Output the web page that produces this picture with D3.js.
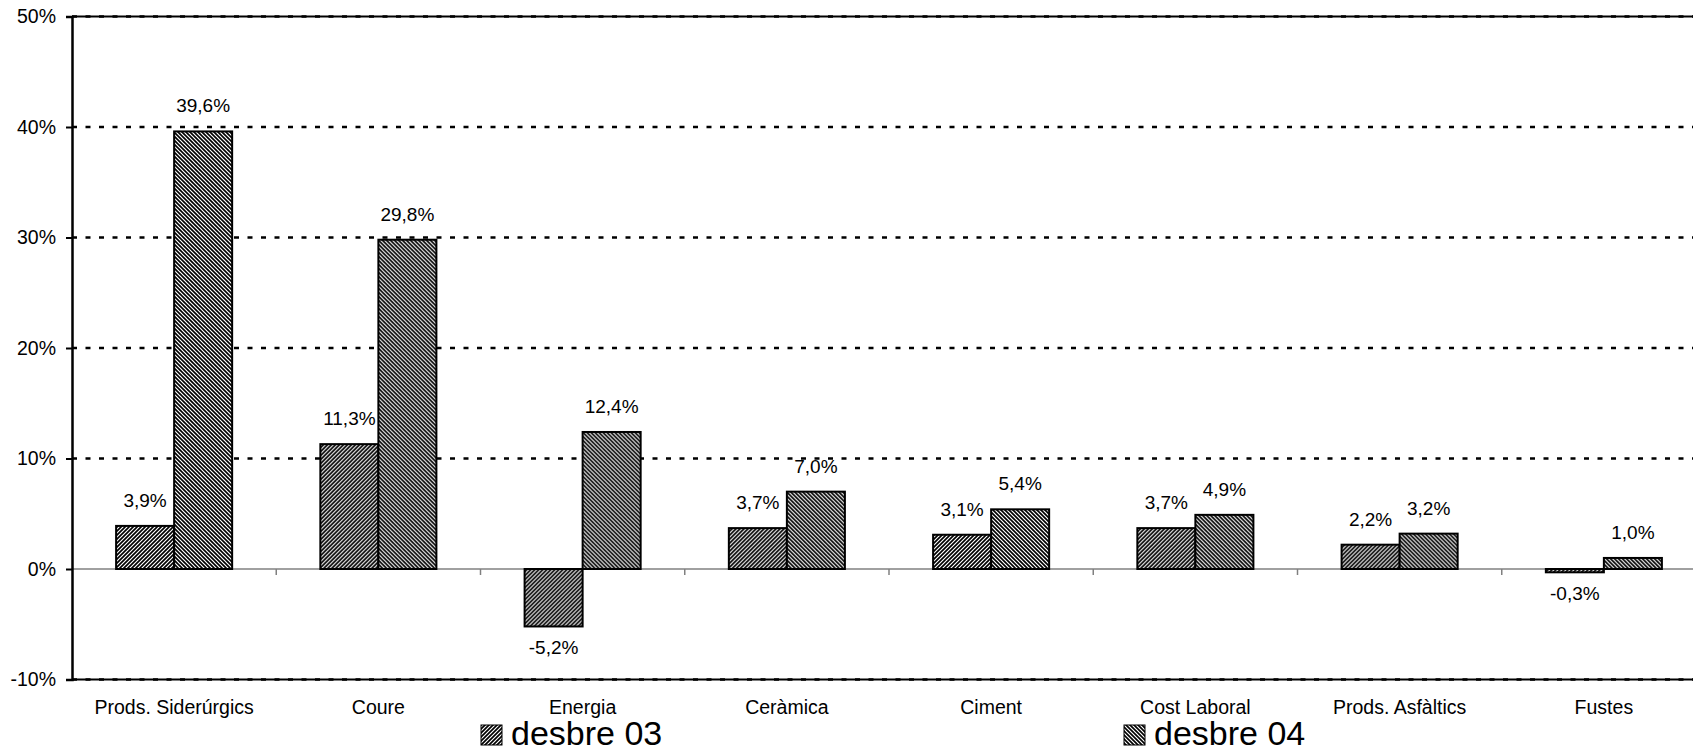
<!DOCTYPE html>
<html lang="ca">
<head>
<meta charset="utf-8">
<title>desbre 03 / desbre 04</title>
<script src="https://d3js.org/d3.v7.min.js"></script>
<style>
  body { margin:0; background:#fff; font-family:"Liberation Sans", Arial, sans-serif; overflow:hidden; }
  svg text { fill:#000; }
</style>
</head>
<body>
<div id="chart"></div>
<script>
var categories = ["Prods. Siderúrgics","Coure","Energia","Ceràmica","Ciment","Cost Laboral","Prods. Asfàltics","Fustes"]
var seriesNames = ["desbre 03","desbre 04"]
var desbre03 = [3.9, 11.3, -5.2, 3.7, 3.1, 3.7, 2.2, -0.3]
var desbre04 = [39.6, 29.8, 12.4, 7.0, 5.4, 4.9, 3.2, 1.0]
var yTicks = [-10, 0, 10, 20, 30, 40, 50]

var W = 1693, H = 752
// plot area runs a little past the right edge of the picture
var mLeft = 72, mRight = 1706, mTop = 16.5, mBottom = 679.5

var svg = d3.select("#chart").append("svg").attr("width", W).attr("height", H)

// hatch patterns
var defs = svg.append("defs")
var p0 = defs.append("pattern").attr("id","hatch03").attr("patternUnits","userSpaceOnUse")
  .attr("width",4).attr("height",4)
p0.append("rect").attr("width",4).attr("height",4).attr("fill","#fff")
p0.append("path").attr("d","M-1,1 l2,-2 M0,4 l4,-4 M3,5 l2,-2").attr("stroke","#000").attr("stroke-width",1.7)
var p1 = defs.append("pattern").attr("id","hatch04").attr("patternUnits","userSpaceOnUse")
  .attr("width",4).attr("height",4)
p1.append("rect").attr("width",4).attr("height",4).attr("fill","#000")
p1.append("path").attr("d","M-1,3 l2,2 M0,0 l4,4 M3,-1 l2,2").attr("stroke","#fff").attr("stroke-width",1.2)
var fills = ["url(#hatch03)","url(#hatch04)"]

var y = d3.scaleLinear().domain([-10, 50]).range([mBottom, mTop])
var x = d3.scaleBand().domain(categories).range([mLeft, mRight]).padding(0)
var xs = d3.scaleBand().domain(seriesNames).range([0, x.bandwidth()]).paddingInner(0).paddingOuter(0.76)

var rows = categories.map(function(c, i){ return {cat:c, vals:[desbre03[i], desbre04[i]]} })

// gridlines
svg.append("g").selectAll("line").data(yTicks.filter(function(t){ return t != 0 }))
  .enter().append("line")
  .attr("x1", mLeft).attr("x2", mRight)
  .attr("y1", function(d){ return y(d) }).attr("y2", function(d){ return y(d) })
  .attr("stroke","#000").attr("stroke-width",2.6).attr("stroke-dasharray","5,8.5")
// solid borders top and bottom
svg.append("g").selectAll("line").data([-10, 50]).enter().append("line")
  .attr("x1", mLeft).attr("x2", mRight)
  .attr("y1", function(d){ return y(d) }).attr("y2", function(d){ return y(d) })
  .attr("stroke","#000").attr("stroke-width",1.8)

// zero line + category ticks
svg.append("line").attr("x1",mLeft).attr("x2",mRight).attr("y1",y(0)).attr("y2",y(0))
  .attr("stroke","#808080").attr("stroke-width",1.5)
svg.append("g").selectAll("line").data(categories.slice(1)).enter().append("line")
  .attr("x1", function(d){ return x(d) }).attr("x2", function(d){ return x(d) })
  .attr("y1", y(0)).attr("y2", y(0) + 6)
  .attr("stroke","#808080").attr("stroke-width",1.5)

// bars
var groups = svg.append("g").selectAll("g").data(rows).enter().append("g")
  .attr("transform", function(d){ return "translate(" + x(d.cat) + ",0)" })
groups.selectAll("rect").data(function(d){ return d.vals.map(function(v, j){ return {s:seriesNames[j], v:v, j:j} }) })
  .enter().append("rect")
  .attr("x", function(d){ return xs(d.s) })
  .attr("width", xs.bandwidth())
  .attr("y", function(d){ return y(Math.max(0, d.v)) })
  .attr("height", function(d){ return Math.abs(y(d.v) - y(0)) })
  .attr("fill", function(d){ return fills[d.j] })
  .attr("stroke","#000").attr("stroke-width",2)

groups.selectAll("text").data(function(d){ return d.vals.map(function(v, j){ return {s:seriesNames[j], v:v} }) })
  .enter().append("text")
  .attr("x", function(d){ return xs(d.s) + xs.bandwidth()/2 })
  .attr("y", function(d){ return d.v >= 0 ? y(d.v) - 19 : y(d.v) + 28 })
  .attr("text-anchor","middle").style("font-size","19px")
  .text(function(d){ return d.v.toFixed(1).replace(".", ",") + "%" })

// y axis
var yAxis = d3.axisLeft(y).tickValues(yTicks).tickSize(6).tickPadding(10)
  .tickFormat(function(d){ return d + "%" })
var ga = svg.append("g").attr("transform","translate(" + mLeft + ",0)").call(yAxis)
ga.select(".domain").attr("stroke","#000").attr("stroke-width",2.5)
ga.selectAll(".tick line").attr("stroke","#000").attr("stroke-width",2)
ga.selectAll(".tick text").style("font-size","19.5px").style("font-family","'Liberation Sans', Arial, sans-serif").attr("fill","#000")

// category labels
svg.append("g").selectAll("text").data(categories).enter().append("text")
  .attr("x", function(d){ return x(d) + x.bandwidth()/2 })
  .attr("y", 714)
  .attr("text-anchor","middle").style("font-size","19.5px")
  .text(function(d){ return d })

// legend
var legendX = [481, 1124]
var lg = svg.append("g").selectAll("g").data(seriesNames).enter().append("g")
  .attr("transform", function(d, i){ return "translate(" + legendX[i] + ",725)" })
lg.append("rect").attr("width",21).attr("height",20)
  .attr("fill", function(d, i){ return fills[i] }).attr("stroke","#000").attr("stroke-width",1)
lg.append("text").attr("x",30).attr("y",20).style("font-size","34px")
  .text(function(d){ return d })
</script>
</body>
</html>
